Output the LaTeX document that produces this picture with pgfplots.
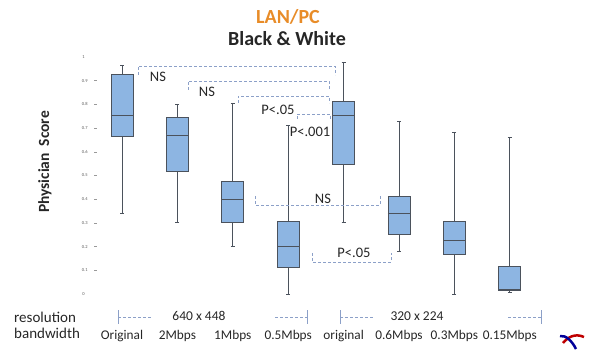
\documentclass[border=0pt]{standalone}
\usepackage{pgfplots}
\pgfplotsset{compat=1.18}
\usepgfplotslibrary{statistics}
\usepackage{fontspec}
\setmainfont{Carlito}
\definecolor{boxblue}{RGB}{141,181,226}
\definecolor{boxgray}{RGB}{75,82,92}
\definecolor{brk}{RGB}{140,160,200}
\definecolor{titleorange}{RGB}{232,140,40}
\begin{document}
\begin{tikzpicture}[x=1pt,y=1pt]
\path[use as bounding box] (0,0) rectangle (589,351);
\begin{axis}[
  at={(97.07pt,57pt)}, anchor=south west,
  scale only axis, width=445.97pt, height=237pt,
  xmin=-0.45, xmax=7.6, ymin=0, ymax=1,
  clip=false,
  axis line style={draw=none},
  xtick={0,1,2,3,4,5,6,7},
  xticklabels={Original,2Mbps,1Mbps,0.5Mbps,original,0.6Mbps,0.3Mbps,0.15Mbps},
  xtick style={draw=none},
  xticklabel style={anchor=mid, yshift=-40pt, font=\fontsize{13.3}{14}\selectfont, text=black!85},
  ytick pos=left,
  ytick={0.1,0.2,...,0.91},
  yticklabels={0.1,0.2,0.3,0.4,0.5,0.6,0.7,0.8,0.9},
  extra y ticks={0,1},
  extra y tick labels={0,1},
  extra y tick style={ytick style={draw=none}, yticklabel style={xshift=-3pt}},
  ytick style={draw=black!40, line width=0.4pt},
  major tick length=3pt, tick align=outside,
  yticklabel style={font=\fontsize{4.5}{5}\selectfont, text=black!65, xshift=-3pt},
  /pgf/number format/assume math mode=true,
  boxplot/draw direction=y,
  boxplot/box extend=0.4,
  boxplot/whisker extend=0.07,
]
\addplot[boxplot prepared={lower whisker=0.34, lower quartile=0.664, median=0.754, upper quartile=0.928, upper whisker=0.965, draw position=0}, fill=boxblue, draw=boxgray, line width=0.8pt] coordinates {};
\addplot[boxplot prepared={lower whisker=0.30, lower quartile=0.516, median=0.671, upper quartile=0.746, upper whisker=0.80, draw position=1}, fill=boxblue, draw=boxgray, line width=0.8pt] coordinates {};
\addplot[boxplot prepared={lower whisker=0.20, lower quartile=0.30, median=0.40, upper quartile=0.474, upper whisker=0.805, draw position=2}, fill=boxblue, draw=boxgray, line width=0.8pt] coordinates {};
\addplot[boxplot prepared={lower whisker=0.0, lower quartile=0.111, median=0.20, upper quartile=0.305, upper whisker=0.713, draw position=3}, fill=boxblue, draw=boxgray, line width=0.8pt] coordinates {};
\addplot[boxplot prepared={lower whisker=0.30, lower quartile=0.546, median=0.752, upper quartile=0.814, upper whisker=0.978, draw position=4}, fill=boxblue, draw=boxgray, line width=0.8pt] coordinates {};
\addplot[boxplot prepared={lower whisker=0.178, lower quartile=0.253, median=0.34, upper quartile=0.41, upper whisker=0.727, draw position=5}, fill=boxblue, draw=boxgray, line width=0.8pt] coordinates {};
\addplot[boxplot prepared={lower whisker=0.0, lower quartile=0.167, median=0.226, upper quartile=0.305, upper whisker=0.68, draw position=6}, fill=boxblue, draw=boxgray, line width=0.8pt] coordinates {};
\addplot[boxplot prepared={lower whisker=0.005, lower quartile=0.017, median=0.02, upper quartile=0.115, upper whisker=0.66, draw position=7}, fill=boxblue, draw=boxgray, line width=0.8pt] coordinates {};
\end{axis}
% titles
\node[font=\fontsize{20}{22}\selectfont\bfseries, text=titleorange] at (288,{351-17}) {LAN/PC};
\node[font=\fontsize{20}{22}\selectfont\bfseries, text=black!85] at (287,{351-39}) {Black \& White};
\node[font=\fontsize{15.5}{17}\selectfont\bfseries, text=black!85, rotate=90] at (45,{351-162}) {Physician\ \ Score};
% brackets
\begin{scope}[draw=brk, densely dashed, line width=0.6pt]
\draw (138,{351-75}) -- (138,{351-66}) -- (335,{351-66}) -- (335,{351-75});
\draw (188,{351-90}) -- (188,{351-81}) -- (329,{351-81}) -- (329,{351-90});
\draw (238,{351-103}) -- (238,{351-96}) -- (329,{351-96}) -- (329,{351-103});
\draw (297,{351-119}) -- (297,{351-114}) -- (330,{351-114}) -- (330,{351-119});
\draw (255,{351-196}) -- (255,{351-205}) -- (380,{351-205}) -- (380,{351-196});
\draw (312,{351-253}) -- (312,{351-262}) -- (391,{351-262}) -- (391,{351-253});
\end{scope}
\begin{scope}[font=\fontsize{14.5}{16}\selectfont, text=black!85]
\node at (158,{351-77}) {NS};
\node at (207,{351-92}) {NS};
\node at (278,{351-110}) {P<.05};
\node at (310,{351-132}) {P<.001};
\node at (323,{351-199}) {NS};
\node at (354,{351-253}) {P<.05};
\end{scope}
% resolution row
\begin{scope}[draw=brk, line width=0.6pt]
\draw (118,{351-310}) -- (118,{351-324});
\draw[densely dashed] (118,{351-317}) -- (152,{351-317});
\draw[densely dashed] (275,{351-317}) -- (307,{351-317});
\draw (307,{351-310}) -- (307,{351-324});
\draw (340,{351-310}) -- (340,{351-324});
\draw[densely dashed] (340,{351-317}) -- (373,{351-317});
\draw[densely dashed] (508,{351-317}) -- (541,{351-317});
\draw (541,{351-310}) -- (541,{351-324});
\end{scope}
\node[font=\fontsize{13.5}{14}\selectfont, text=black!85] at (199,{351-316}) {640 x 448};
\node[font=\fontsize{13.5}{14}\selectfont, text=black!85] at (417,{351-316}) {320 x 224};
\node[font=\fontsize{15}{16}\selectfont, text=black!85, anchor=west, inner sep=0pt] at (14,{351-317}) {resolution};
\node[font=\fontsize{15}{16}\selectfont, text=black!85, anchor=west, inner sep=0pt] at (14,{351-333}) {bandwidth};
% logo
\draw[red!75!black, line width=2.5pt] (563,8) .. controls (568,14) and (575,18) .. (584,14);
\draw[blue!60!black, line width=2.5pt] (560,15) .. controls (566,16) and (572,10) .. (576,2);
\end{tikzpicture}
\end{document}
